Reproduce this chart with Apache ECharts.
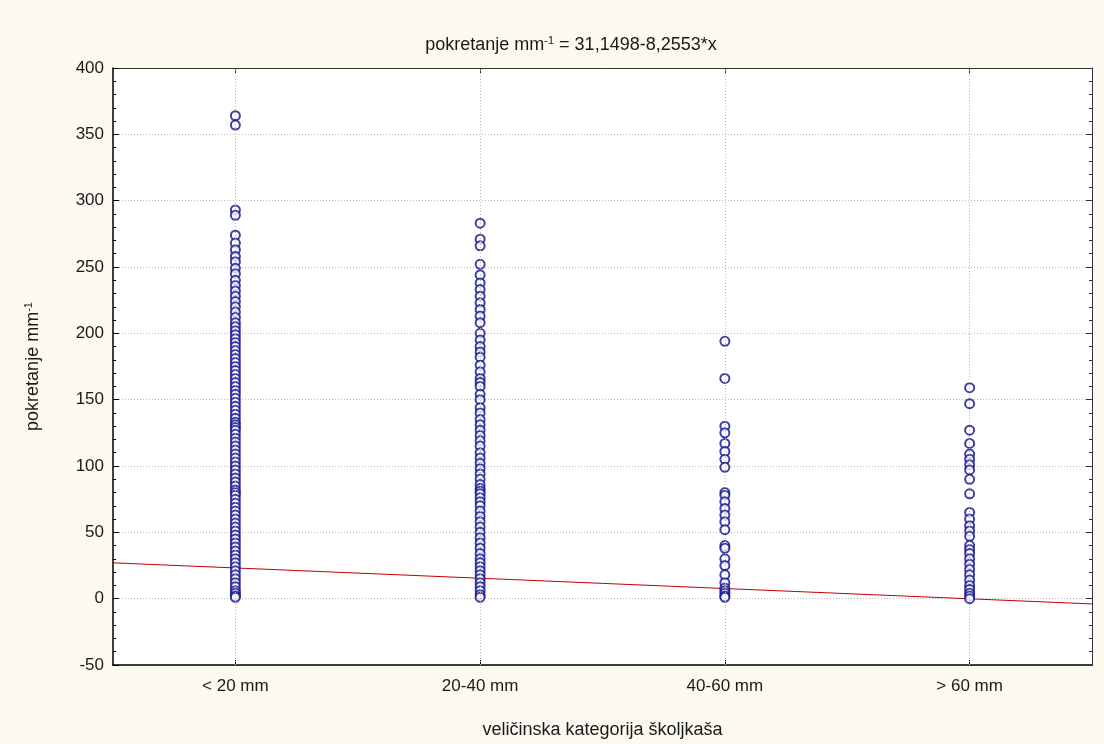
<!DOCTYPE html>
<html>
<head>
<meta charset="utf-8">
<script src="https://cdn.jsdelivr.net/npm/echarts@6/dist/echarts.min.js"></script>
<style>
html,body{margin:0;padding:0;background:#fcf9f0;}
#chart{width:1104px;height:744px;}
</style>
</head>
<body>
<div id="chart"></div>
<script>
// Categories
const categories = ['< 20 mm', '20-40 mm', '40-60 mm', '> 60 mm'];
// Y-axis tick range
const yTicks = [-50, 0, 50, 100, 150, 200, 250, 300, 350, 400];
const cat1 = [364, 357, 293, 289, 274, 268, 263, 258, 254, 249, 245, 240, 236, 232, 228, 224, 220, 216, 212, 208, 205, 202, 199, 196, 193, 190, 187, 184, 181, 178, 175, 172, 169, 166, 163, 160, 157, 154, 151, 148, 145, 142, 139, 136, 133, 131, 129, 127, 124, 121, 118, 115, 112, 109, 106, 103, 100, 97, 94, 91, 88, 85, 82, 80, 78, 75, 72, 69, 66, 63, 60, 57, 54, 51, 48, 45, 42, 39, 36, 33, 30, 27, 24, 21, 18, 15, 12, 9, 6, 4, 2, 1];
const cat2 = [283, 271, 266, 252, 244, 238, 233, 228, 223, 218, 213, 208, 200, 195, 190, 186, 182, 176, 171, 166, 163, 160, 154, 150, 144, 140, 135, 131, 127, 123, 119, 115, 110, 106, 102, 98, 94, 90, 86, 83, 81, 79, 76, 73, 70, 66, 62, 58, 54, 50, 46, 42, 38, 34, 30, 27, 24, 21, 18, 15, 12, 9, 6, 3, 1];
const cat3 = [194, 166, 130, 125, 117, 111, 105, 99, 80, 78, 73, 68, 63, 58, 52, 40, 38, 30, 25, 18, 12, 8, 6, 4, 2, 1];
const cat4 = [159, 147, 127, 117, 109, 105, 101, 97, 90, 79, 65, 60, 55, 51, 47, 40, 37, 34, 30, 26, 22, 18, 14, 10, 7, 4, 2, 0];
// Regression line endpoints (y = 31,1498 - 8,2553*x) at the axis edges
const fitX = [0.5, 4.5];
const fitY = [27.02, -3.98];

const catPositions = [1, 2, 3, 4];
const allCats = [cat1, cat2, cat3, cat4];
const scatterData = [];
allCats.forEach((arr, i) => arr.forEach(v => scatterData.push([catPositions[i], v])));

const font = "'Liberation Sans', Arial, sans-serif";
const fsT = 18, fsL = 17;
const sup = { fontFamily: font, fontSize: 11, color: '#1a1a1a', verticalAlign: 'top', padding: [0, 0, 9, 0] };
const chart = echarts.init(document.getElementById('chart'));
chart.setOption({
  backgroundColor: '#fcf9f0',
  animation: false,
  title: {
    text: 'pokretanje mm{sup|-1} = 31,1498-8,2553*x',
    left: 566, top: 30, textAlign: 'center',
    textStyle: {
      fontFamily: font, fontSize: fsT, fontWeight: 'normal', color: '#1a1a1a',
      rich: { sup: sup }
    }
  },
  grid: { left: 113, right: 12, top: 68, bottom: 74, show: true, backgroundColor: '#ffffff', borderWidth: 0 },
  xAxis: [{
    type: 'value', min: 0.5, max: 4.5, position: 'bottom',
    name: 'veličinska kategorija školjkaša', nameLocation: 'middle', nameGap: 56,
    nameTextStyle: { fontFamily: font, fontSize: fsT, color: '#1a1a1a' },
    axisLine: { onZero: false, lineStyle: { color: '#000', width: 1.5 } },
    axisTick: { inside: true, length: 5, customValues: catPositions, lineStyle: { color: '#000' } },
    axisLabel: { customValues: catPositions, margin: 13, fontFamily: font, fontSize: fsL, color: '#1a1a1a',
      formatter: v => categories[Math.round(v) - 1] },
    splitLine: { show: false }
  }, {
    type: 'value', min: 0.5, max: 4.5, position: 'top',
    axisLine: { onZero: false, lineStyle: { color: '#333', width: 1 } },
    axisTick: { inside: true, length: 5, customValues: catPositions, lineStyle: { color: '#333' } },
    axisLabel: { show: false }, splitLine: { show: false }
  }],
  yAxis: [{
    type: 'value', min: yTicks[0], max: yTicks[yTicks.length - 1], interval: 50, position: 'left',
    name: 'pokretanje mm{sup|-1}', nameLocation: 'middle', nameGap: 70, nameRotate: 90,
    nameTextStyle: { fontFamily: font, fontSize: fsT, color: '#1a1a1a', rich: { sup: sup } },
    axisLine: { onZero: false, show: true, lineStyle: { color: '#000', width: 1.5 } },
    axisTick: { show: true, inside: true, length: 6, lineStyle: { color: '#000' } },
    minorTick: { show: true, splitNumber: 5, length: 3, lineStyle: { color: '#000' } },
    axisLabel: { margin: 9, fontFamily: font, fontSize: fsL, color: '#1a1a1a' },
    splitLine: { show: true, lineStyle: { color: '#b8b8b8', type: [1, 2], width: 1 } }
  }, {
    type: 'value', min: yTicks[0], max: yTicks[yTicks.length - 1], interval: 50, position: 'right',
    axisLine: { onZero: false, show: true, lineStyle: { color: '#333', width: 1 } },
    axisTick: { show: true, inside: true, length: 6, lineStyle: { color: '#333' } },
    minorTick: { show: true, splitNumber: 5, length: 3, lineStyle: { color: '#333' } },
    axisLabel: { show: false }, splitLine: { show: false }
  }],
  series: [{
    type: 'line', xAxisIndex: 0, yAxisIndex: 0,
    data: fitX.map((x, i) => [x, fitY[i]]),
    showSymbol: false, symbol: 'none',
    lineStyle: { color: '#c00000', width: 1 }, z: 3,
    markLine: {
      silent: true, symbol: 'none', label: { show: false },
      lineStyle: { color: '#b8b8b8', type: [1, 2], width: 1 },
      data: catPositions.map(p => ({ xAxis: p }))
    }
  }, {
    type: 'scatter', xAxisIndex: 0, yAxisIndex: 0,
    data: scatterData,
    symbol: 'emptyCircle', symbolSize: 9,
    itemStyle: { color: '#10108c', borderColor: '#10108c', borderWidth: 1.5 }, z: 4
  }]
});
</script>
</body>
</html>
